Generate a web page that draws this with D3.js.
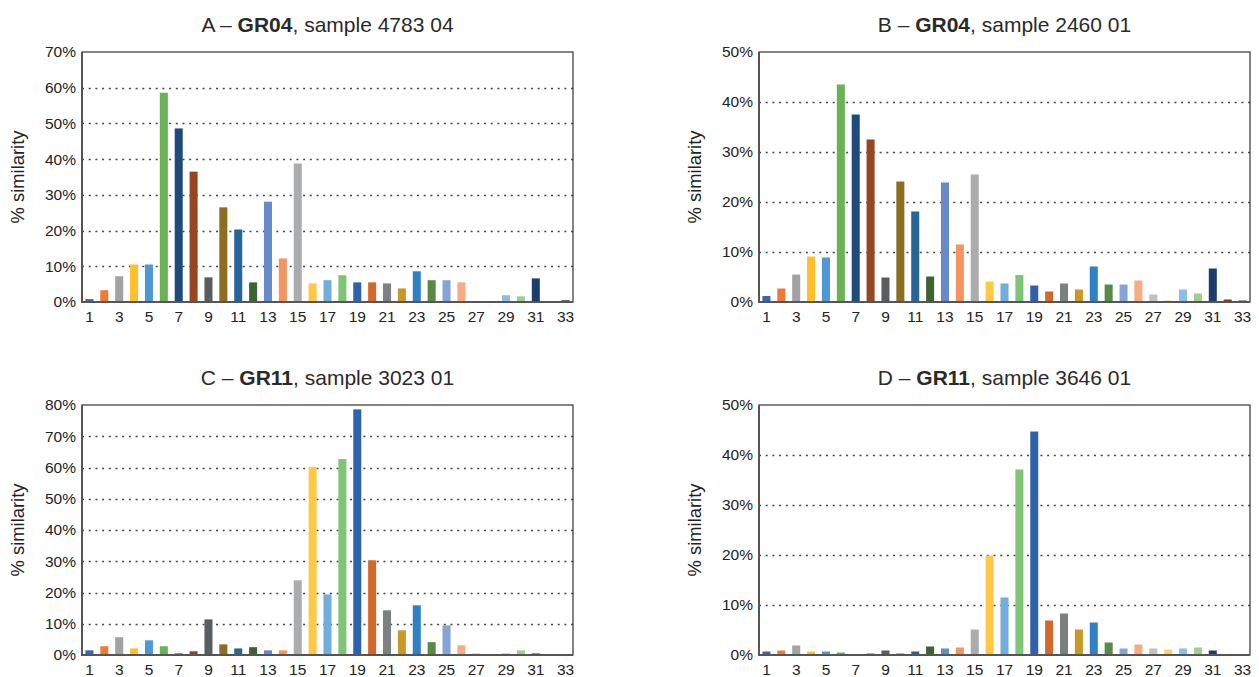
<!DOCTYPE html>
<html lang="en">
  <head>
    <meta charset="UTF-8" />
    <title>% similarity by group</title>
    <script src="https://d3js.org/d3.v7.min.js"></script>
    <style>
      body {
        margin: 0;
        background: #fff;
        font-family: "Liberation Sans", Arial, Helvetica, sans-serif;
      }
      .tick-label {
        font-size: 15.5px;
        fill: #222;
      }
      .title {
        font-size: 21px;
        fill: #2a2a2a;
      }
      .axis-title {
        font-size: 18.4px;
        fill: #222;
      }
    </style>
  </head>
  <body>
    <div id="chart"></div>
    <script>
      // categories on the x axis (1..33), only odd ones get a label
      const categories = [
        1, 2, 3, 4, 5, 6, 7, 8, 9, 10, 11, 12, 13, 14, 15, 16, 17, 18, 19, 20,
        21, 22, 23, 24, 25, 26, 27, 28, 29, 30, 31, 32, 33,
      ];

      // one colour per category, same in every panel
      const barColors = [
        "#3a66b0", "#ee7b35", "#a0a2a3", "#ffc02a", "#4f98d6", "#6ab255",
        "#1e4a7c", "#984620", "#5a5d5f", "#8c6e22", "#266598", "#3e6332",
        "#678ac9", "#f4955f", "#aaacad", "#ffc845", "#72aedc", "#80c576",
        "#2f62ac", "#d3682b", "#7d8080", "#c89927", "#3080c4", "#568a45",
        "#84a4d6", "#f5ac80", "#c0c0c0", "#f8d36c", "#8bbde6", "#9dd08f",
        "#1d3e6a", "#7b3a14", "#404040",
      ];

      // % similarity per panel
      const valuesA = [
        0.8, 3.3, 7.2, 10.5, 10.5, 58.6, 48.6, 36.5, 6.9, 26.5, 20.3, 5.5,
        28.1, 12.2, 38.8, 5.2, 6.1, 7.5, 5.5, 5.5, 5.2, 3.8, 8.6, 6.1, 6.1,
        5.5, 0.2, 0.2, 1.9, 1.6, 6.6, 0.2, 0.5,
      ];
      const valuesB = [
        1.2, 2.7, 5.5, 9.1, 8.9, 43.5, 37.5, 32.5, 4.9, 24.1, 18.1, 5.1,
        23.9, 11.5, 25.5, 4.1, 3.7, 5.4, 3.3, 2.1, 3.7, 2.5, 7.1, 3.5, 3.5,
        4.3, 1.5, 0.3, 2.5, 1.7, 6.7, 0.5, 0.3,
      ];
      const valuesC = [
        1.5, 2.8, 5.7, 2.1, 4.7, 2.8, 0.5, 1.2, 11.4, 3.4, 2.1, 2.5, 1.5,
        1.5, 23.9, 60.1, 19.4, 62.7, 78.6, 30.3, 14.3, 7.9, 15.9, 4.1, 9.5,
        3.1, 0.5, 0.3, 0.5, 1.5, 0.5, 0.3, 0.3,
      ];
      const valuesD = [
        0.7, 0.9, 1.9, 0.7, 0.7, 0.5, 0.2, 0.3, 0.9, 0.3, 0.7, 1.7, 1.3, 1.5,
        5.1, 19.9, 11.5, 37.1, 44.7, 6.9, 8.3, 5.1, 6.5, 2.5, 1.3, 2.1, 1.3,
        1.1, 1.3, 1.5, 0.9, 0.2, 0.2,
      ];

      // y axis ticks per panel
      const ticksA = [0, 10, 20, 30, 40, 50, 60, 70];
      const ticksB = [0, 10, 20, 30, 40, 50];
      const ticksC = [0, 10, 20, 30, 40, 50, 60, 70, 80];
      const ticksD = [0, 10, 20, 30, 40, 50];

      const panelLetters = ["A", "B", "C", "D"];
      const panelGroups = ["GR04", "GR04", "GR11", "GR11"];
      const panelSamples = [
        "sample 4783 04",
        "sample 2460 01",
        "sample 3023 01",
        "sample 3646 01",
      ];

      const panels = [
        { values: valuesA, ticks: ticksA, left: 82, top: 52 },
        { values: valuesB, ticks: ticksB, left: 759, top: 52 },
        { values: valuesC, ticks: ticksC, left: 82, top: 405 },
        { values: valuesD, ticks: ticksD, left: 759, top: 405 },
      ];

      const plotW = 491,
        plotH = 250;

      const svg = d3
        .select("#chart")
        .append("svg")
        .attr("width", 1259)
        .attr("height", 677);

      panels.forEach((p, i) => {
        const g = svg
          .append("g")
          .attr("transform", `translate(${p.left}, ${p.top})`);

        const x = d3
          .scaleBand()
          .domain(categories)
          .range([0, plotW])
          .paddingInner(0.46)
          .paddingOuter(0.23);

        const y = d3
          .scaleLinear()
          .domain([0, d3.max(p.ticks)])
          .range([plotH, 0]);

        // dotted gridlines
        g.selectAll(".grid")
          .data(p.ticks.slice(1, -1))
          .enter()
          .append("line")
          .attr("x1", 0)
          .attr("x2", plotW)
          .attr("y1", (d) => Math.round(y(d)) + 0.5)
          .attr("y2", (d) => Math.round(y(d)) + 0.5)
          .attr("stroke", "#444")
          .attr("stroke-width", 1.3)
          .attr("stroke-dasharray", "2,4.7");

        // bars
        g.selectAll(".bar")
          .data(p.values)
          .enter()
          .append("rect")
          .attr("x", (d, j) => x(categories[j]))
          .attr("width", x.bandwidth())
          .attr("y", (d) => y(d))
          .attr("height", (d) => plotH - y(d))
          .attr("fill", (d, j) => barColors[j]);

        // frame: top/right thin, left/bottom heavier
        g.append("rect")
          .attr("x", 0)
          .attr("y", 0)
          .attr("width", plotW)
          .attr("height", plotH)
          .attr("fill", "none")
          .attr("stroke", "#333")
          .attr("stroke-width", 1.2);
        g.append("path")
          .attr("d", `M0,0V${plotH}H${plotW}`)
          .attr("fill", "none")
          .attr("stroke", "#555")
          .attr("stroke-width", 2);

        // y axis labels
        const yAxis = g
          .append("g")
          .call(
            d3
              .axisLeft(y)
              .tickValues(p.ticks)
              .tickSize(0)
              .tickPadding(6)
              .tickFormat((d) => d + "%")
          );
        yAxis.select(".domain").remove();
        yAxis
          .selectAll("text")
          .attr("class", "tick-label")
          .attr("font-family", null)
          .attr("font-size", null);

        // x axis labels (odd categories)
        const xAxis = g
          .append("g")
          .attr("transform", `translate(0, ${plotH})`)
          .call(
            d3
              .axisBottom(x)
              .tickValues(categories.filter((c) => c % 2 === 1))
              .tickSize(0)
              .tickPadding(9)
          );
        xAxis.select(".domain").remove();
        xAxis
          .selectAll("text")
          .attr("class", "tick-label")
          .attr("font-family", null)
          .attr("font-size", null);

        // y axis title
        g.append("text")
          .attr("class", "axis-title")
          .attr("transform", `translate(-64, ${plotH / 2}) rotate(-90)`)
          .attr("text-anchor", "middle")
          .attr("dy", "0.35em")
          .text("% similarity");

        // panel title
        const title = g
          .append("text")
          .attr("class", "title")
          .attr("x", plotW / 2)
          .attr("y", -20)
          .attr("text-anchor", "middle");
        title.append("tspan").text(panelLetters[i] + " \u2013 ");
        title
          .append("tspan")
          .attr("font-weight", "bold")
          .text(panelGroups[i]);
        title.append("tspan").text(", " + panelSamples[i]);
      });
    </script>
  </body>
</html>
